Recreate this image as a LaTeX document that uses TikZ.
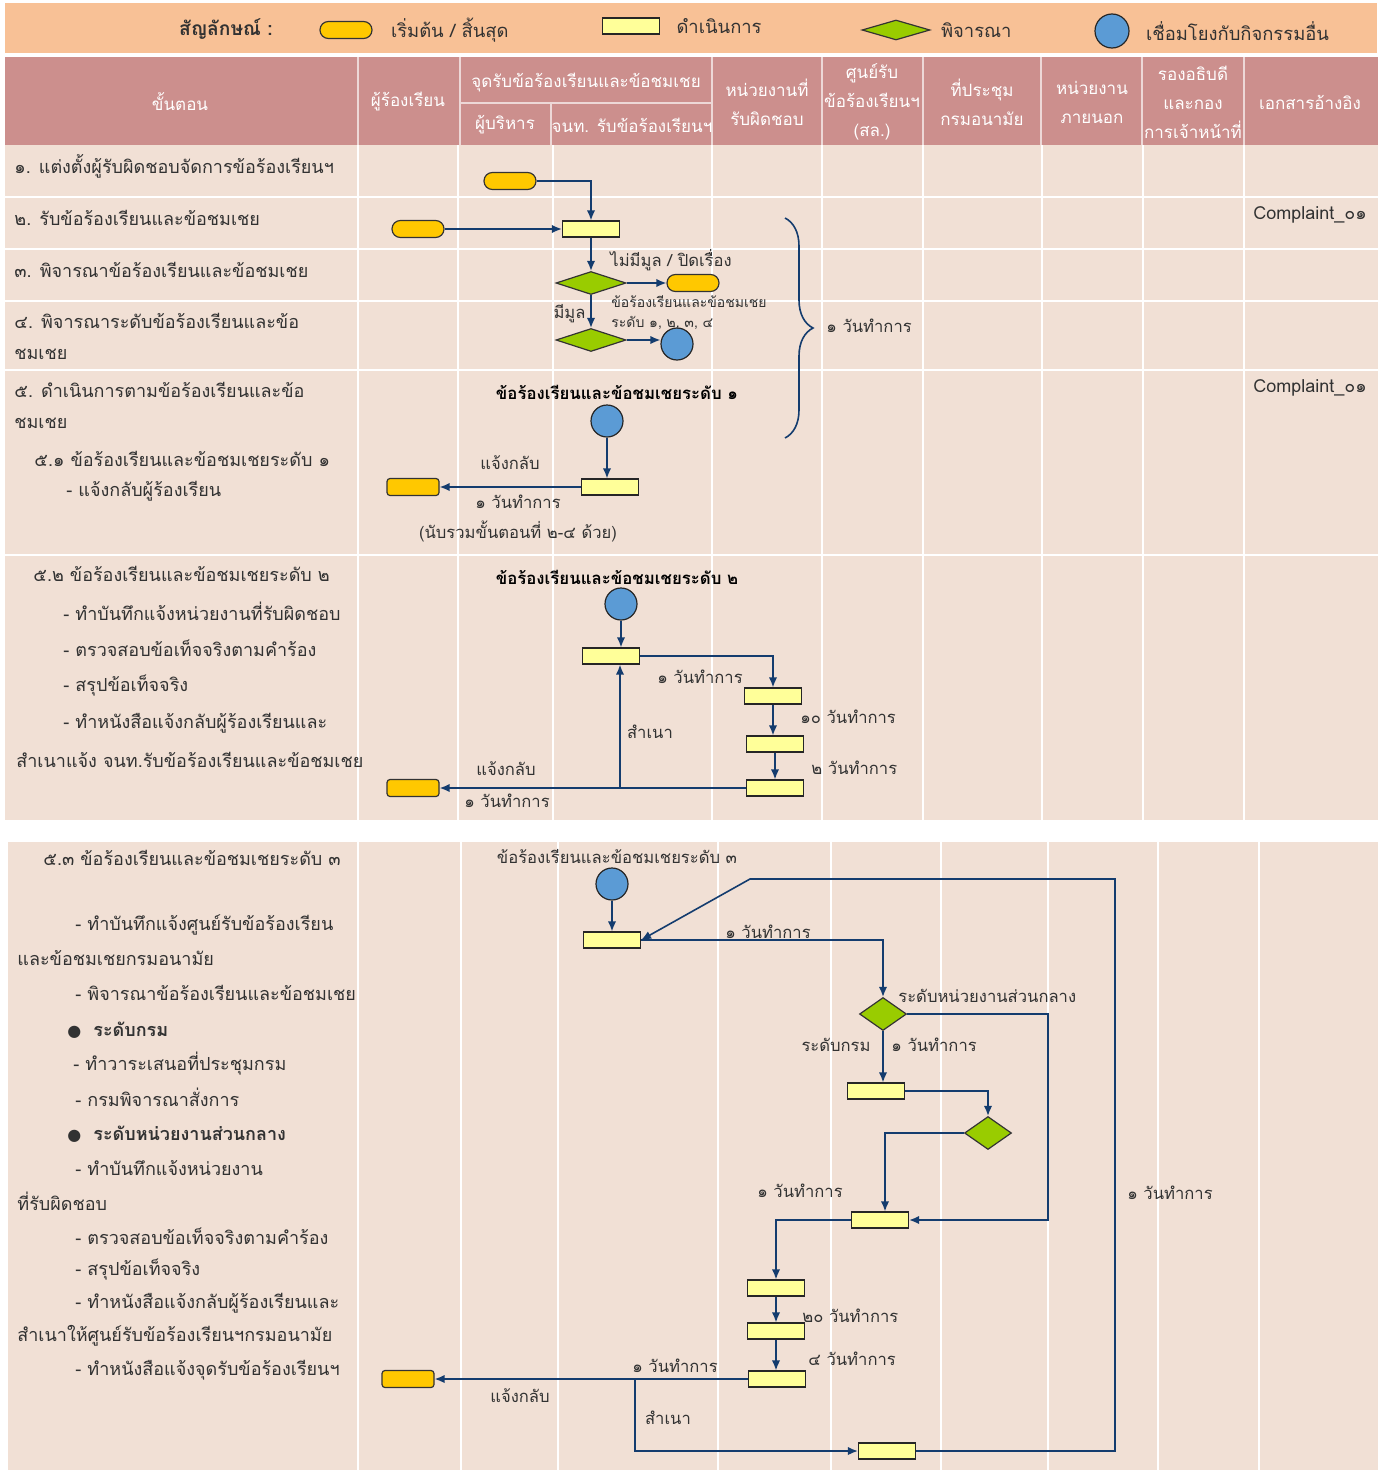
\documentclass[tikz,border=0pt]{standalone}
\usepackage{fontspec}
\setmainfont[Script=Thai]{Loma}
\newfontfamily\symfont{DejaVu Sans}
\usetikzlibrary{positioning,shapes.geometric,arrows.meta,decorations.pathreplacing}

\definecolor{legendbg}{RGB}{248,193,150}
\definecolor{headbg}{RGB}{204,143,141}
\definecolor{bodybg}{RGB}{241,224,213}
\definecolor{termgold}{RGB}{255,200,0}
\definecolor{procyel}{RGB}{255,255,153}
\definecolor{decgreen}{RGB}{153,204,0}
\definecolor{linkblue}{RGB}{91,155,213}
\definecolor{flowblue}{RGB}{20,60,110}
\definecolor{txtgray}{RGB}{50,50,50}

\tikzset{
	term/.style={draw=black!80, fill=termgold, rounded corners=4.2pt, minimum width=26pt, minimum height=8.5pt, inner sep=0pt, line width=0.6pt},
	termbox/.style={term, rounded corners=1.5pt},
	proc/.style={draw=black!85, fill=procyel, minimum width=28.5pt, minimum height=8pt, inner sep=0pt, line width=0.6pt},
	decide/.style={diamond, draw=black!80, fill=decgreen, minimum width=35pt, minimum height=11.5pt, inner sep=0pt, line width=0.6pt},
	decsmall/.style={decide, minimum width=23.5pt, minimum height=16.5pt},
	link/.style={circle, draw=black!85, fill=linkblue, minimum size=16pt, inner sep=0pt, line width=0.6pt},
	flow/.style={draw=flowblue, line width=0.8pt, -{Latex[length=5pt,width=4.2pt]}},
	lbl/.style={text=txtgray, inner sep=1pt, font=\fontsize{8.3}{10}\selectfont},
	smalllbl/.style={text=txtgray, inner sep=1pt, align=left, font=\fontsize{7}{10}\selectfont},
	boldlbl/.style={text=black, inner sep=1pt, font=\bfseries\fontsize{8.4}{10}\selectfont},
	steptxt/.style={text=txtgray, anchor=west, inner sep=0pt, font=\fontsize{9}{11}\selectfont},
	hdr/.style={text=white, align=center, inner sep=0pt, font=\fontsize{8.5}{14.5}\selectfont},
	lgtxt/.style={text=txtgray, inner sep=0pt, font=\fontsize{9.2}{12}\selectfont},
	gridline/.style={draw=white, line width=0.8pt},
	hdrline/.style={draw=white!65!headbg, line width=0.8pt}
}

\begin{document}
\begin{tikzpicture}[x=0.5pt,y=-0.5pt]
\useasboundingbox (0,0) rectangle (1385,1472);
\fill[white] (0,0) rectangle (1385,1472);

% legend bar
\fill[legendbg] (5,3) rectangle (1377,53);
\node[lgtxt, font=\bfseries\fontsize{9.6}{12}\selectfont] (lgtitle) at (226,29) {สัญลักษณ์ :};
\node[term] (lgterm) at (346,30) {};
\node[lgtxt, right=9pt of lgterm] (lgtermtxt) {เริ่มต้น / สิ้นสุด};
\node[proc] (lgproc) at (631,26) {};
\node[lgtxt, right=8pt of lgproc] (lgproctxt) {ดำเนินการ};
\node[decide, minimum width=34pt, minimum height=10pt] (lgdec) at (896,30) {};
\node[lgtxt, right=5pt of lgdec] (lgdectxt) {พิจารณา};
\node[link, minimum size=17pt] (lglink) at (1112,31) {};
\node[lgtxt, right=8pt of lglink] (lglinktxt) {เชื่อมโยงกับกิจกรรมอื่น};

% header
\fill[headbg] (5,57) rectangle (1378,145);
\foreach \x in {358,460,712,822,923,1041,1142,1244}
	\draw[hdrline] (\x,57) -- (\x,145);
\draw[hdrline] (460,103) -- (712,103);
\draw[hdrline] (551,103) -- (551,145);
\node[hdr] (hstep) at (180,102) {ขั้นตอน};
\node[hdr] (hcomp) at (408,102) {ผู้ร้องเรียน};
\node[hdr] (hpoint) at (586,83) {จุดรับข้อร้องเรียนและข้อชมเชย};
\node[hdr] (hexec) at (505,125) {ผู้บริหาร};
\node[hdr] (hstaff) at (632,125) {จนท. รับข้อร้องเรียนฯ};
\node[hdr] (hunit) at (767,102) {หน่วยงานที่\\รับผิดชอบ};
\node[hdr] (hcenter) at (872,102) {ศูนย์รับ\\ข้อร้องเรียนฯ\\(สล.)};
\node[hdr] (hmeet) at (982,102) {ที่ประชุม\\กรมอนามัย};
\node[hdr] (hext) at (1092,102) {หน่วยงาน\\ภายนอก};
\node[hdr] (hdep) at (1193,102) {รองอธิบดี\\และกอง\\การเจ้าหน้าที่};
\node[hdr] (hdoc) at (1310,102) {เอกสารอ้างอิง};

% body grid
\fill[bodybg] (5,145) rectangle (1378,820);
\foreach \y in {197,249,301,370,555}
	\draw[gridline] (5,\y) -- (1378,\y);
\foreach \x in {358,458,553,712,822,923,1042,1143,1244}
	\draw[gridline] (\x,145) -- (\x,820);
\fill[bodybg] (8,842) rectangle (1378,1470);
\foreach \x in {358,461,558,718,831,941,1048,1158,1259}
	\draw[gridline] (\x,842) -- (\x,1470);

% step texts
\node[steptxt] (s1) at (14,166) {๑. แต่งตั้งผู้รับผิดชอบจัดการข้อร้องเรียนฯ};
\node[steptxt] (s2) at (14,218) {๒. รับข้อร้องเรียนและข้อชมเชย};
\node[steptxt] (s3) at (14,270) {๓. พิจารณาข้อร้องเรียนและข้อชมเชย};
\node[steptxt] (s4a) at (14,321) {๔. พิจารณาระดับข้อร้องเรียนและข้อ};
\node[steptxt] (s4b) at (14,354) {ชมเชย};
\node[steptxt] (s5a) at (14,390) {๕. ดำเนินการตามข้อร้องเรียนและข้อ};
\node[steptxt] (s5b) at (14,423) {ชมเชย};
\node[steptxt] (s51) at (34,459) {๕.๑ ข้อร้องเรียนและข้อชมเชยระดับ ๑};
\node[steptxt] (s51a) at (66,491) {- แจ้งกลับผู้ร้องเรียน};
\node[steptxt] (s52) at (33,574) {๕.๒ ข้อร้องเรียนและข้อชมเชยระดับ ๒};
\node[steptxt] (s52a) at (63,611) {- ทำบันทึกแจ้งหน่วยงานที่รับผิดชอบ};
\node[steptxt] (s52b) at (63,648) {- ตรวจสอบข้อเท็จจริงตามคำร้อง};
\node[steptxt] (s52c) at (63,686) {- สรุปข้อเท็จจริง};
\node[steptxt] (s52d) at (63,723) {- ทำหนังสือแจ้งกลับผู้ร้องเรียนและ};
\node[steptxt] (s52e) at (16,760) {สำเนาแจ้ง จนท.รับข้อร้องเรียนและข้อชมเชย};
\node[steptxt] (s53) at (43,858) {๕.๓ ข้อร้องเรียนและข้อชมเชยระดับ ๓};
\node[steptxt] (s53a) at (75,925) {- ทำบันทึกแจ้งศูนย์รับข้อร้องเรียน};
\node[steptxt] (s53b) at (17,958) {และข้อชมเชยกรมอนามัย};
\node[steptxt] (s53c) at (75,993) {- พิจารณาข้อร้องเรียนและข้อชมเชย};
\node[steptxt, font=\bfseries\fontsize{9}{11}\selectfont] (s53d) at (67,1030) {{\symfont\fontsize{8}{10}\selectfont ●}\hspace{6pt}ระดับกรม};
\node[steptxt] (s53e) at (73,1064) {- ทำวาระเสนอที่ประชุมกรม};
\node[steptxt] (s53f) at (75,1097) {- กรมพิจารณาสั่งการ};
\node[steptxt, font=\bfseries\fontsize{9}{11}\selectfont] (s53g) at (67,1134) {{\symfont\fontsize{8}{10}\selectfont ●}\hspace{6pt}ระดับหน่วยงานส่วนกลาง};
\node[steptxt] (s53h) at (75,1168) {- ทำบันทึกแจ้งหน่วยงาน};
\node[steptxt] (s53i) at (17,1201) {ที่รับผิดชอบ};
\node[steptxt] (s53j) at (75,1236) {- ตรวจสอบข้อเท็จจริงตามคำร้อง};
\node[steptxt] (s53k) at (75,1270) {- สรุปข้อเท็จจริง};
\node[steptxt] (s53l) at (75,1303) {- ทำหนังสือแจ้งกลับผู้ร้องเรียนและ};
\node[steptxt] (s53m) at (17,1336) {สำเนาให้ศูนย์รับข้อร้องเรียนฯกรมอนามัย};
\node[steptxt] (s53n) at (75,1370) {- ทำหนังสือแจ้งจุดรับข้อร้องเรียนฯ};

% reference documents
\node[steptxt] (doc1) at (1253,215) {Complaint\_๐๑};
\node[steptxt] (doc2) at (1253,388) {Complaint\_๐๑};

% steps 1-4
\node[term] (t1) at (510,181) {};
\node[term] (t2) at (418,229) {};
\node[proc] (p1) at (591,229) {};
\node[decide] (d1) at (591,283) {};
\node[term] (t3) at (693,283) {};
\node[decide] (d2) at (591,340) {};
\node[link] (c1) at (677,344) {};
\draw[flow] (t1.east) -| (p1.north);
\draw[flow] (t2.east) -- (p1.west);
\draw[flow] (p1.south) -- (d1.north);
\draw[flow] (d1.east) -- (t3.west);
\draw[flow] (d1.south) -- (d2.north);
\draw[flow] (d2.east) -- (d2.east -| c1.west);
\node[lbl, anchor=west] (nobasis) at (608,260) {ไม่มีมูล / ปิดเรื่อง};
\node[smalllbl, anchor=west] (levels) at (609,313) {ข้อร้องเรียนและข้อชมเชย\\ระดับ ๑, ๒, ๓, ๔};
\node[lbl, anchor=east] (basis) at (588,314) {มีมูล};
\draw[decorate, decoration={brace, amplitude=14pt}, draw=flowblue, line width=0.8pt] (785,218) -- (785,438);
\node[lbl, anchor=west] (bracelbl) at (824,326) {๑ วันทำการ};

% level 1
\node[boldlbl] (lv1) at (617,392) {ข้อร้องเรียนและข้อชมเชยระดับ ๑};
\node[link] (c2) at (607,421) {};
\node[proc] (p2) at (610,487) {};
\node[termbox] (t4) at (413,487) {};
\draw[flow] (c2.south) -- (c2.south |- p2.north);
\draw[flow] (p2.west) -- (t4.east);
\node[lbl] (back1) at (510,463) {แจ้งกลับ};
\node[lbl] (day1) at (518,502) {๑ วันทำการ};
\node[lbl] (count1) at (518,531) {(นับรวมขั้นตอนที่ ๒-๔ ด้วย)};

% level 2
\node[boldlbl] (lv2) at (617,577) {ข้อร้องเรียนและข้อชมเชยระดับ ๒};
\node[link] (c3) at (621,604) {};
\node[proc] (p3) at (611,656) {};
\node[proc] (p4) at (773,696) {};
\node[proc] (p5) at (775,744) {};
\node[proc] (p6) at (775,788) {};
\node[termbox] (t5) at (413,788) {};
\coordinate (j1) at (620,788);
\draw[flow] (c3.south) -- (c3.south |- p3.north);
\draw[flow] (p3.east) -| (p4.north);
\draw[flow] (p4.south) -- (p4.south |- p5.north);
\draw[flow] (p5.south) -- (p6.north);
\draw[flow] (p6.west) -- (t5.east);
\draw[flow] (j1) -- (j1 |- p3.south);
\node[lbl] (day2a) at (700,677) {๑ วันทำการ};
\node[lbl, anchor=west] (day2b) at (798,717) {๑๐ วันทำการ};
\node[lbl, anchor=west] (day2c) at (809,768) {๒ วันทำการ};
\node[lbl] (back2) at (506,769) {แจ้งกลับ};
\node[lbl] (day2d) at (507,801) {๑ วันทำการ};
\node[lbl] (copy2) at (650,732) {สำเนา};

% level 3
\node[lbl] (lv3) at (617,857) {ข้อร้องเรียนและข้อชมเชยระดับ ๓};
\node[link] (c4) at (612,884) {};
\node[proc] (p7) at (612,940) {};
\node[decsmall] (d3) at (883,1014) {};
\node[proc] (p8) at (876,1091) {};
\node[decsmall] (d4) at (988,1133) {};
\node[proc] (p9) at (880,1220) {};
\node[proc] (p10) at (776,1288) {};
\node[proc] (p11) at (776,1331) {};
\node[proc] (p12) at (777,1379) {};
\node[termbox] (t6) at (408,1379) {};
\node[proc] (p13) at (887,1451) {};
\coordinate (r1) at (1048,1100);
\coordinate (r2) at (885,1133);
\coordinate (r3) at (1115,879);
\coordinate (r4) at (750,879);
\coordinate (j2) at (635,1379);
\draw[flow] (c4.south) -- (p7.north);
\draw[flow] (p7.east) -| (d3.north);
\draw[flow] (d3.east) -| (r1) |- (p9.east);
\draw[flow] (d3.south) -- (d3.south |- p8.north);
\draw[flow] (p8.east) -| (d4.north);
\draw[flow] (d4.west) -- (r2) -- (r2 |- p9.north);
\draw[flow] (p9.west) -| (p10.north);
\draw[flow] (p10.south) -- (p11.north);
\draw[flow] (p11.south) -- (p11.south |- p12.north);
\draw[flow] (p12.west) -- (t6.east);
\draw[flow] (j2) |- (p13.west);
\draw[flow] (p13.east) -| (r3) -- (r4) -- (p7.east);
\node[lbl] (day3a) at (768,932) {๑ วันทำการ};
\node[lbl, anchor=west] (central) at (896,996) {ระดับหน่วยงานส่วนกลาง};
\node[lbl, anchor=east] (dept) at (873,1045) {ระดับกรม};
\node[lbl, anchor=west] (day3b) at (889,1045) {๑ วันทำการ};
\node[lbl] (day3c) at (800,1191) {๑ วันทำการ};
\node[lbl, anchor=west] (day3d) at (800,1316) {๒๐ วันทำการ};
\node[lbl, anchor=west] (day3e) at (806,1359) {๔ วันทำการ};
\node[lbl] (day3f) at (675,1366) {๑ วันทำการ};
\node[lbl] (back3) at (520,1396) {แจ้งกลับ};
\node[lbl] (copy3) at (668,1418) {สำเนา};
\node[lbl] (day3g) at (1170,1193) {๑ วันทำการ};
\end{tikzpicture}
\end{document}
